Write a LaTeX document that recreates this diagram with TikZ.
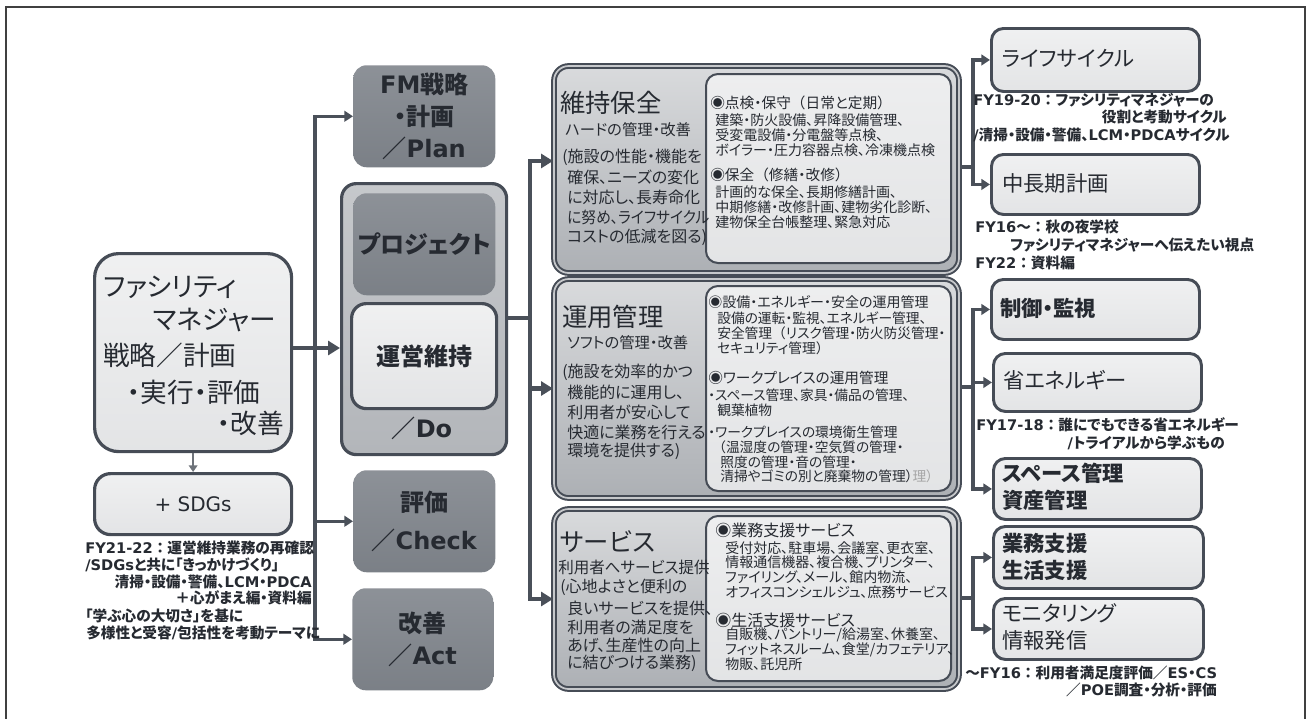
\documentclass[tikz,border=0pt]{standalone}
\usepackage{fontspec}
\setmainfont{Noto Sans CJK JP}[RawFeature=+palt]
\newfontfamily\lat{DejaVu Sans}
\usetikzlibrary{arrows.meta}
\definecolor{dk}{HTML}{464C56}
\definecolor{txc}{HTML}{262A31}
\definecolor{gfill}{HTML}{80858C}
\definecolor{ln}{HTML}{4A5059}
\newcommand\fsz[1]{\fontsize{#1}{#1}\selectfont}
\newcommand\fw[1]{{\addfontfeature{RawFeature=-palt}#1}}
\newcommand\bx[7]{\node[#1, anchor=north west, inner sep=0, minimum width={(#5-#3)*0.75pt}, minimum height={(#6-#4)*0.75pt}] (#2) at (#3,#4) {#7};}
\tikzset{
  t/.style={anchor=west, inner sep=0, text=txc},
  te/.style={anchor=east, inner sep=0, text=txc},
  tc/.style={anchor=center, inner sep=0, text=txc},
  gbox/.style={top color=gfill!90!white, bottom color=gfill!96!black, rounded corners=10pt, text=txc, align=center},
  lbox/.style={top color=white!88!gfill, bottom color=white!78!gfill, draw=dk, line width=2.2pt, rounded corners=9pt},
  bigbox/.style={top color=white!70!gfill, bottom color=white!35!gfill, draw=dk, double=white!55!gfill, double distance=1.3pt, line width=1.5pt, rounded corners=11pt},
  inbox/.style={top color=white!86!gfill, bottom color=white!78!gfill, draw=dk, line width=1.5pt, rounded corners=9pt},
  thk/.style={draw=ln, line width=3.4pt, -{Triangle[length=9pt,width=10.5pt]}},
  thkl/.style={draw=ln, line width=3.4pt},
  thn/.style={draw=ln, line width=2.4pt, -{Triangle[length=6.5pt,width=8pt]}},
  thnl/.style={draw=ln, line width=2.4pt},
}
\begin{document}
\begin{tikzpicture}[x=0.75pt,y=-0.75pt]
\useasboundingbox (0,0) rectangle (1306,718);
\draw[draw=black!75, line width=0.8pt] (6,730) -- (6,7) -- (1305,7) -- (1305,730);

% boxes
\bx{lbox, rounded corners=18pt, line width=2.4pt}{fm}{93}{252}{290}{450}{}
\bx{lbox, rounded corners=12pt, line width=2.4pt, text=txc, font=\fsz{15pt}\lat}{sdg}{93}{472}{290}{533}{+ SDGs}
\bx{gbox, font={\fontsize{18pt}{24pt}\selectfont\bfseries}}{plan}{353}{65}{495}{167}{{\lat FM}戦略\\・計画\\／{\lat Plan}}
\bx{draw=dk, line width=2.4pt, top color=white!55!gfill, bottom color=white!40!gfill, rounded corners=11pt}{do}{340}{182}{505}{453}{}
\bx{gbox, font=\fsz{18pt}\bfseries}{proj}{353}{193}{495}{295}{プロジェクト}
\bx{lbox, line width=2.4pt, rounded corners=11pt, text=txc, font=\fsz{18pt}\bfseries}{unei}{350}{302}{495}{407}{運営維持}
\bx{gbox, font={\fontsize{18pt}{28pt}\selectfont\bfseries}}{check}{353}{470}{495}{572}{評価\\／{\lat Check}}
\bx{gbox, font={\fontsize{18pt}{24pt}\selectfont\bfseries}}{act}{352}{588}{493}{690}{改善\\／{\lat Act}}

\bx{bigbox}{mh}{553}{65}{958}{272}{}
\bx{inbox}{mhi}{705}{73}{950}{262}{}
\bx{bigbox}{uy}{553}{278}{958}{497}{}
\bx{inbox}{uyi}{705}{285}{950}{490}{}
\bx{bigbox}{sv}{553}{508}{958}{688}{}
\bx{inbox}{svi}{705}{515}{950}{680}{}

\bx{lbox}{lc}{990}{27}{1198}{90}{}
\bx{lbox}{cp}{990}{153}{1198}{213}{}
\bx{lbox}{ctl}{990}{278}{1198}{338}{}
\bx{lbox}{se}{992}{352}{1200}{410}{}
\bx{lbox}{sp}{992}{457}{1200}{518}{}
\bx{lbox}{gs}{992}{525}{1202}{587}{}
\bx{lbox}{mn}{992}{597}{1202}{658}{}

% connectors
\coordinate (j1) at (315,348);
\draw[thkl] (fm.east |- j1) -- (j1);
\draw[thk] (j1) -- (do.west |- j1);
\draw[thn] (j1) |- (plan.west);
\draw[thn] (j1) |- (check.west);
\draw[thn] (j1) |- (act.west);
\draw[draw=ln!80, line width=1.6pt, -{Triangle[length=5pt,width=6.5pt]}] (fm.south) -- (sdg.north);

\coordinate (j2) at (530,318);
\draw[thkl] (do.east |- j2) -- (j2);
\draw[thk] (j2) |- ([yshift=6.4pt]mh.west);
\draw[thk] (j2) |- (uy.west);
\draw[thk] (j2) |- (sv.west);

\coordinate (j3) at (973,167);
\draw[thnl] (mh.east |- j3) -- (j3);
\draw[thn] (j3) |- (lc.west);
\draw[thn] (j3) |- (cp.west);
\coordinate (j4) at (973,387);
\draw[thnl] (uy.east |- j4) -- (j4);
\draw[thn] (j4) |- (ctl.west);
\draw[thn] (j4) |- (se.west);
\draw[thn] (j4) |- (sp.west);
\coordinate (j5) at (973,598);
\draw[thnl] (sv.east |- j5) -- (j5);
\draw[thn] (j5) |- (gs.west);
\draw[thn] (j5) |- (mn.west);

% FM box text
\begin{scope}[every node/.append style={font=\fsz{20pt}}]
\node[t] (f1) at (103,287) {ファシリティ};
\node[t] (f2) at (153,320) {マネジャー};
\node[t] (f3) at (103,355) {戦略／計画};
\node[t] (f4) at (127,392) {・実行・評価};
\node[t] (f5) at (217,423) {・改善};
\end{scope}
\node[tc, font=\fsz{18pt}\bfseries] (dl) at (422,428) {／{\lat Do}};

% left notes
\begin{scope}[every node/.append style={font=\fsz{11pt}\bfseries, text=black}]
\node[t] (n1) at (85,548) {{\lat FY21-22}\fw{：}運営維持業務の再確認};
\node[t] (n2) at (85,565) {{\lat /SDGs}と共に「きっかけづくり」};
\node[te] (n3) at (312,582) {清掃・設備・警備、{\lat LCM}・{\lat PDCA}};
\node[te] (n4) at (312,598) {＋心がまえ編・資料編};
\node[t] (n5) at (85,616) {「学ぶ心の大切さ」を基に};
\node[t] (n6) at (86,633) {多様性と受容{\lat /}包括性を考動テーマに};
\end{scope}

% 維持保全
\node[t, font=\fsz{19pt}] (mh0) at (560,103) {維持保全};
\node[t, font=\fsz{11.5pt}] (mh1) at (565,130) {ハードの管理・改善};
\begin{scope}[every node/.append style={font=\fsz{12pt}}]
\node[t] (mh2) at (562,157) {(施設の性能・機能を};
\node[t] (mh3) at (567,177) {確保、ニーズの変化};
\node[t] (mh4) at (567,197) {に対応し、長寿命化};
\node[t] (mh5) at (567,217) {\scalebox{0.92}[1]{に努め、ライフサイクル}};
\node[t] (mh6) at (567,237) {コストの低減を図る)};
\end{scope}
\node[t, font=\fsz{11pt}] (mr1) at (710,103) {◉点検・保守\fw{（}日常と定期\fw{）}};
\node[t, font=\fsz{11pt}] (mr5) at (710,175) {◉保全\fw{（}修繕・改修\fw{）}};
\begin{scope}[every node/.append style={font=\fsz{10.5pt}}]
\node[t] (mr2) at (715,120) {建築・防火設備、昇降設備管理、};
\node[t] (mr3) at (715,135) {受変電設備・分電盤等点検、};
\node[t] (mr4) at (715,150) {ボイラー・圧力容器点検、冷凍機点検};
\node[t] (mr6) at (715,192) {計画的な保全、長期修繕計画、};
\node[t] (mr7) at (715,207) {中期修繕・改修計画、建物劣化診断、};
\node[t] (mr8) at (715,222) {建物保全台帳整理、緊急対応};
\end{scope}

% 運用管理
\node[t, font=\fsz{19pt}] (uy0) at (562,317) {運用管理};
\node[t, font=\fsz{11.5pt}] (uy1) at (567,343) {ソフトの管理・改善};
\begin{scope}[every node/.append style={font=\fsz{12pt}}]
\node[t] (uy2) at (562,372) {(施設を効率的かつ};
\node[t] (uy3) at (567,392) {機能的に運用し、};
\node[t] (uy4) at (567,412) {利用者が安心して};
\node[t] (uy5) at (567,432) {快適に業務を行える};
\node[t] (uy6) at (567,451) {環境を提供する)};
\end{scope}
\node[t, font=\fsz{10.5pt}] (ur1) at (708,302) {◉設備・エネルギー・安全の運用管理};
\node[t, font=\fsz{11pt}] (ur5) at (708,378) {◉ワークプレイスの運用管理};
\begin{scope}[every node/.append style={font=\fsz{10.3pt}}]
\node[t] (ur2) at (717,318) {設備の運転・監視、エネルギー管理、};
\node[t] (ur3) at (717,333) {安全管理\fw{（}リスク管理・防火防災管理・};
\node[t] (ur4) at (717,348) {セキュリティ管理\fw{）}};
\node[t] (ur6) at (708,395) {・スペース管理、家具・備品の管理、};
\node[t] (ur7) at (717,410) {観葉植物};
\node[t] (ur8) at (708,432) {・ワークプレイスの環境衛生管理};
\node[t] (ur9) at (712,447) {\fw{（}温湿度の管理・空気質の管理・};
\node[t] (ur10) at (720,462) {照度の管理・音の管理・};
\node[t] (ur11) at (720,476) {清掃やゴミの別と廃棄物の管理）\textcolor{black!35}{理）}};
\end{scope}

% サービス
\node[t, font=\fsz{19pt}] (sv0) at (560,542) {サービス};
\begin{scope}[every node/.append style={font=\fsz{12pt}}]
\node[t] (sv1) at (558,567) {\scalebox{0.97}[1]{利用者へサービス提供}};
\node[t] (sv2) at (560,587) {(心地よさと便利の};
\node[t] (sv3) at (567,608) {良いサービスを提供、};
\node[t] (sv4) at (567,627) {利用者の満足度を};
\node[t] (sv5) at (567,645) {あげ、生産性の向上};
\node[t] (sv6) at (567,663) {に結びつける業務)};
\end{scope}
\node[t, font=\fsz{12pt}] (sr1) at (715,530) {◉業務支援サービス};
\node[t, font=\fsz{12pt}] (sr6) at (715,620) {◉生活支援サービス};
\begin{scope}[every node/.append style={font=\fsz{10.5pt}}]
\node[t] (sr2) at (725,548) {受付対応、駐車場、会議室、更衣室、};
\node[t] (sr3) at (725,562) {情報通信機器、複合機、プリンター、};
\node[t] (sr4) at (725,577) {ファイリング、メール、館内物流、};
\node[t] (sr5) at (725,592) {オフィスコンシェルジュ、庶務サービス};
\node[t] (sr7) at (725,635) {自販機、パントリー/給湯室、休養室、};
\node[t] (sr8) at (725,650) {フィットネスルーム、食堂/カフェテリア、};
\node[t] (sr9) at (725,664) {物販、託児所};
\end{scope}

% right boxes text
\begin{scope}[every node/.append style={font=\fsz{16pt}}]
\node[t] (lct) at (1002,58) {ライフサイクル};
\node[t] (cpt) at (1002,183) {中長期計画};
\node[t] (set) at (1003,380) {省エネルギー};
\node[t] (mn1) at (1002,613) {モニタリング};
\node[t] (mn2) at (1002,640) {情報発信};
\end{scope}
\begin{scope}[every node/.append style={font=\fsz{16pt}\bfseries}]
\node[t] (ctlt) at (1000,308) {制御・監視};
\node[t] (sp1) at (1002,473) {スペース管理};
\node[t] (sp2) at (1002,500) {資産管理};
\node[t] (gs1) at (1002,543) {業務支援};
\node[t] (gs2) at (1002,570) {生活支援};
\end{scope}

% right notes
\begin{scope}[every node/.append style={font=\fsz{11pt}\bfseries, text=black}]
\node[t] (r1) at (973,100) {{\lat FY19-20}\fw{：}ファシリティマネジャーの};
\node[te] (r2) at (1227,117) {役割と考動サイクル};
\node[t] (r3) at (973,135) {{\lat /}清掃・設備・警備、{\lat LCM}・{\lat PDCA}サイクル};
\node[t] (r4) at (975,227) {{\lat FY16}～\fw{：}秋の夜学校};
\node[t] (r5) at (1010,245) {ファシリティマネジャーへ伝えたい視点};
\node[t] (r6) at (975,263) {{\lat FY22}\fw{：}資料編};
\node[t] (r7) at (976,425) {{\lat FY17-18}\fw{：}誰にでもできる省エネルギー};
\node[te] (r8) at (1225,443) {{\lat /}トライアルから学ぶもの};
\node[t] (r9) at (965,673) {～{\lat FY16}\fw{：}利用者満足度評価／{\lat ES}・{\lat CS}};
\node[te] (r10) at (1217,690) {／{\lat POE}調査・分析・評価};
\end{scope}
\end{tikzpicture}
\end{document}
